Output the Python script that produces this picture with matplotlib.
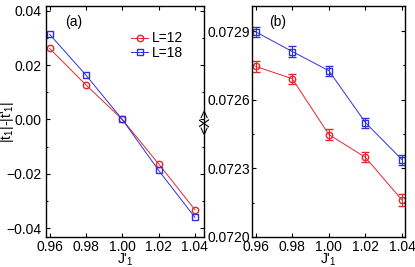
import matplotlib
matplotlib.use("Agg")
import matplotlib.pyplot as plt
from matplotlib.ticker import MultipleLocator

plt.rcParams["font.family"] = ["Liberation Sans", "DejaVu Sans"]
plt.rcParams["mathtext.fontset"] = "custom"
plt.rcParams["mathtext.rm"] = "Liberation Sans"
plt.rcParams["mathtext.default"] = "regular"
plt.rcParams["font.size"] = 10

RED = "#e3262b"
BLUE = "#2d32d8"

j1 = [0.96, 0.98, 1.00, 1.02, 1.04]
j1_labels = ["0.96", "0.98", "1.00", "1.02", "1.04"]

# panel (a): |t1|-|t'1|
dt_L12 = [0.0261, 0.0127, 0.0, -0.0163, -0.0332]
dt_L18 = [0.0313, 0.0163, 0.0, -0.0187, -0.0360]

# panel (b): <X>
x_L12 = [0.072746, 0.072692, 0.072448, 0.072348, 0.072161]
x_L18 = [0.072897, 0.072811, 0.072727, 0.072500, 0.072338]
err_L12 = [0.000025, 0.000022, 0.000025, 0.000022, 0.000025]
err_L18 = [0.000022, 0.000022, 0.000022, 0.000022, 0.000022]

W, H = 415, 267
fig = plt.figure(figsize=(W / 100, H / 100), dpi=100)
ax1 = fig.add_axes([46 / W, 30 / H, 158 / W, 231 / H])
ax2 = fig.add_axes([252 / W, 30 / H, 153 / W, 231 / H])

mk = dict(markerfacecolor="none", markersize=4.6, markeredgewidth=1.0, linewidth=0.7)

ax1.plot(j1, dt_L12, "-o", color=RED, label="L=12", **mk)
ax1.plot(j1, dt_L18, "-s", color=BLUE, label="L=18", **mk)
ax1.set_xlim(0.958, 1.045)
ax1.set_ylim(-0.0432, 0.0417)
ax1.set_xticks(j1)
ax1.set_xticklabels(j1_labels)
ax1.set_yticks([-0.04, -0.02, 0.0, 0.02, 0.04])
ax1.set_yticklabels(["\u22120.04", "\u22120.02", "0.00", "0.02", "0.04"])
ax1.yaxis.set_minor_locator(MultipleLocator(0.01))
ax1.set_xlabel("J'$_1$")
ax1.set_ylabel("|t$_1$|-|t'$_1$|")
ax1.xaxis.set_label_coords(0.5, -0.064)
ax1.yaxis.set_label_coords(-0.188, 0.5)
ax1.text(0.12, 0.93, "(a)", transform=ax1.transAxes, va="center")
ax1.legend(loc="upper left", bbox_to_anchor=(0.54, 0.89), frameon=False,
           handlelength=1.2, handletextpad=0.3, labelspacing=0.05,
           borderpad=0.0, borderaxespad=0.0)

ax2.errorbar(j1, x_L12, yerr=err_L12, fmt="-o", color=RED, capsize=3,
             elinewidth=0.7, capthick=0.7, **mk)
ax2.errorbar(j1, x_L18, yerr=err_L18, fmt="-s", color=BLUE, capsize=3,
             elinewidth=0.7, capthick=0.7, **mk)
ax2.set_xlim(0.958, 1.0416)
ax2.set_ylim(0.0720, 0.07301)
ax2.set_xticks(j1)
ax2.set_xticklabels(j1_labels)
ax2.set_yticks([0.0720, 0.0723, 0.0726, 0.0729])
ax2.set_yticklabels(["0.0720", "0.0723", "0.0726", "0.0729"])
ax2.yaxis.set_minor_locator(MultipleLocator(0.00015))
ax2.set_xlabel("J'$_1$")
ax2.set_ylabel("<X>")
ax2.xaxis.set_label_coords(0.5, -0.064)
ax2.yaxis.set_label_coords(-0.26, 0.5)
ax2.text(0.11, 0.93, "(b)", transform=ax2.transAxes, va="center")

for ax in (ax1, ax2):
    ax.tick_params(which="both", direction="in", top=True, right=True,
                   length=3, width=0.8)
    ax.tick_params(which="minor", length=1.5)
    ax.tick_params(axis="x", pad=2)
    for s in ax.spines.values():
        s.set_linewidth(1.0)
ax1.tick_params(axis="y", pad=3.5)
ax2.tick_params(axis="y", pad=1.5)

fig.savefig("out.png", dpi=100)
